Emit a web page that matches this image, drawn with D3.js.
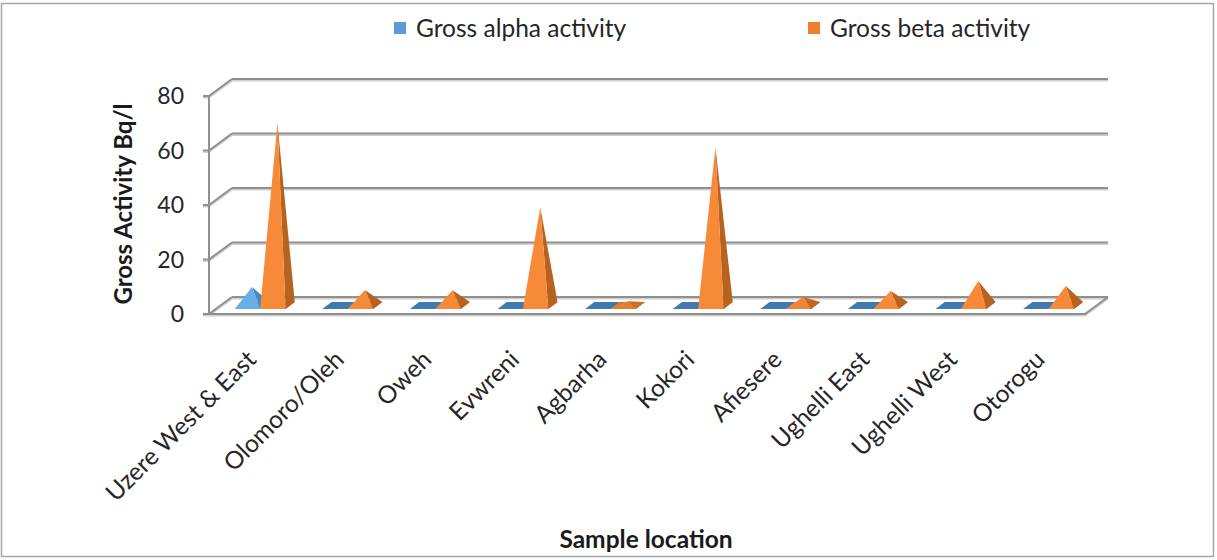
<!DOCTYPE html>
<html>
<head>
<meta charset="utf-8">
<script src="https://cdn.jsdelivr.net/npm/d3@7"></script>
<style>
  html, body { margin: 0; padding: 0; background: #fff; }
  svg { display: block; font-family: Lato, "Open Sans", sans-serif; }
</style>
</head>
<body>
<svg id="chart" width="1217" height="560"></svg>
<script>
// Sample locations and gross activities (Bq/l)
const locations = ["Uzere West & East", "Olomoro/Oleh", "Oweh", "Evwreni", "Agbarha",
                   "Kokori", "Afiesere", "Ughelli East", "Ughelli West", "Otorogu"];
const grossAlpha = [6.8, 0.2, 0.2, 0.2, 0.1, 0.2, 0.2, 0.2, 0.2, 0.2];
const grossBeta  = [67.0, 5.7, 5.6, 36.1, 1.6, 58.2, 3.1, 5.3, 9.0, 7.2];
const seriesNames = ["Gross alpha activity", "Gross beta activity"];
const yTicks = [0, 20, 40, 60, 80];

const svg = d3.select("#chart");

// 3-D box geometry: front plane plus an oblique depth offset
const left = 209, right = 1085, floorY = 314, topY = 96;
const DX = 23, DY = 17;

const x = d3.scaleBand().domain(locations).range([left, right]);
const xs = d3.scaleBand().domain(seriesNames)
  .range([x.bandwidth() * 0.215, x.bandwidth() * 0.795]);
const y = d3.scaleLinear().domain([0, 80]).range([floorY, topY]);

const proj = (px, v, d) => [px + d * DX, y(v) - d * DY];

// Outer frame
svg.append("rect").attr("x", 1.5).attr("y", 3.5).attr("width", 1212).attr("height", 553)
  .attr("fill", "none").attr("stroke", "#a6a6a6").attr("stroke-width", 1.5);

const grid = svg.append("g");
const gridColor = "#8f8f8f", shadowColor = "#cfcfcf";

function line2(g, pts) {
  g.append("path").attr("d", d3.line()(pts.map(p => [p[0], p[1] + 1.8])))
    .attr("fill", "none").attr("stroke", shadowColor).attr("stroke-width", 1.5);
  g.append("path").attr("d", d3.line()(pts))
    .attr("fill", "none").attr("stroke", gridColor).attr("stroke-width", 2);
}

// Back-wall gridlines with their diagonal links to the front axis
yTicks.forEach(t => {
  line2(grid, [proj(left, t, 1), proj(right, t, 1)]);
  line2(grid, [[left - 6, y(t)], [left, y(t)], proj(left, t, 1)]);
});
// Floor outline
line2(grid, [[left, y(0)], [right, y(0)], proj(right, 0, 1)]);
// Front vertical axis
grid.append("line").attr("x1", left).attr("x2", left).attr("y1", y(80)).attr("y2", y(0))
  .attr("stroke", gridColor).attr("stroke-width", 2);

// Y tick labels
svg.append("g").selectAll("text").data(yTicks).join("text")
  .attr("x", 184).attr("y", d => y(d)).attr("dy", "0.35em")
  .attr("text-anchor", "end").attr("font-size", 23).attr("fill", "#262626")
  .text(d => d);

// Pyramid colours: front face, side face, flattened top
const palette = {
  "Gross alpha activity": { front: "#68aee8", side: "#4a88c0", flat: "#3f79b0", key: "#5b9bd5" },
  "Gross beta activity":  { front: "#f68a38", side: "#b8621f", flat: "#dc772c", key: "#ed7d31" }
};

const rows = [];
locations.forEach((loc, i) => {
  rows.push({ loc, s: seriesNames[0], v: grossAlpha[i] });
  rows.push({ loc, s: seriesNames[1], v: grossBeta[i] });
});

const marks = svg.append("g");
const d0 = 0.3, d1 = 0.7;
rows.forEach(r => {
  const x0 = x(r.loc) + xs(r.s), w = xs.bandwidth();
  const FL = proj(x0, 0, d0), FR = proj(x0 + w, 0, d0);
  const BR = proj(x0 + w, 0, d1), BL = proj(x0, 0, d1);
  const A = proj(x0 + w / 2, r.v, (d0 + d1) / 2);
  const c = palette[r.s];
  const t = Math.max(0, Math.min(1, (y(0) - y(r.v)) / 12));
  const g = marks.append("g");
  g.append("path").attr("d", d3.line()([FL, FR, BR, BL]) + "Z").attr("fill", c.flat);
  g.append("path").attr("d", d3.line()([FR, BR, A]) + "Z")
    .attr("fill", d3.interpolateRgb(c.flat, c.side)(t));
  g.append("path").attr("d", d3.line()([FL, FR, A]) + "Z")
    .attr("fill", d3.interpolateRgb(c.flat, c.front)(t));
});

// Category labels, rotated
svg.append("g").selectAll("text").data(locations).join("text")
  .attr("transform", d => `translate(${x(d) + x.bandwidth() / 2 + 5},${361}) rotate(-45)`)
  .attr("text-anchor", "end").attr("font-size", 24.5).attr("fill", "#262626")
  .text(d => d);

// Axis titles
svg.append("text")
  .attr("transform", "translate(132,204) rotate(-90)")
  .attr("text-anchor", "middle").attr("font-size", 24).attr("font-weight", "bold")
  .attr("fill", "#1a1a1a").text("Gross Activity Bq/l");
svg.append("text").attr("x", 646).attr("y", 548)
  .attr("text-anchor", "middle").attr("font-size", 24.5).attr("font-weight", "bold")
  .attr("fill", "#1a1a1a").text("Sample location");

// Legend
const legendX = [416, 830];
const legend = svg.append("g").selectAll("g").data(seriesNames).join("g")
  .attr("transform", (d, i) => `translate(${legendX[i]},28)`);
legend.append("rect").attr("x", -22).attr("y", -6).attr("width", 12).attr("height", 12)
  .attr("fill", d => palette[d].key);
legend.append("text").attr("x", 0).attr("y", 0).attr("dy", "0.35em")
  .attr("font-size", 24.5).attr("fill", "#262626").text(d => d);
</script>
</body>
</html>
